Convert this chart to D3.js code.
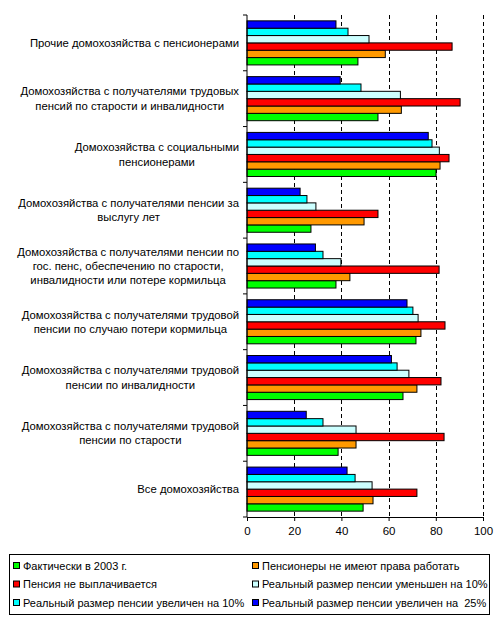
<!DOCTYPE html>
<html>
<head>
<meta charset="utf-8">
<script src="https://cdn.jsdelivr.net/npm/d3@7"></script>
<style>
  body { margin: 0; background: #fff; }
  svg text { font-family: "Liberation Sans", Arial, sans-serif; font-size: 11px; fill: #000; white-space: pre; }
  svg text.cat { font-size: 11.3px; }
</style>
</head>
<body>
<div id="chart"></div>
<script>
// Categories (top to bottom)
var categories = [
    'Прочие домохозяйства с пенсионерами',
    'Домохозяйства с получателями трудовых|пенсий по старости и инвалидности',
    'Домохозяйства с социальными|пенсионерами',
    'Домохозяйства с получателями пенсии за|выслугу лет',
    'Домохозяйства с получателями пенсии по|гос. пенс, обеспечению по старости,|инвалидности или потере кормильца',
    'Домохозяйства с получателями трудовой|пенсии по случаю потери кормильца',
    'Домохозяйства с получателями трудовой|пенсии по инвалидности',
    'Домохозяйства с получателями трудовой|пенсии по старости',
    'Все домохозяйства'
];

// Series names and colours
var seriesNames = [
    'Фактически в 2003 г.',
    'Пенсионеры не имеют права работать',
    'Пенсия не выплачивается',
    'Реальный размер пенсии уменьшен на 10%',
    'Реальный размер пенсии увеличен на 10%',
    'Реальный размер пенсии увеличен на  25%'
];
var seriesColors = ['#00ff00', '#ff9900', '#ff0000', '#ccffff', '#00ffff', '#0000ff'];

// Values per series, in category order
var actual2003   = [47.0, 55.5, 80.1, 27.1, 37.7, 71.6, 66.1, 38.6, 49.2];
var noWork       = [58.6, 65.4, 81.8, 49.6, 43.6, 73.7, 72.0, 46.2, 53.4];
var noPension    = [86.9, 90.3, 85.6, 55.5, 81.4, 83.9, 82.2, 83.5, 72.0];
var minus10      = [51.7, 65.0, 81.5, 29.2, 39.8, 72.5, 68.6, 46.2, 53.0];
var plus10       = [42.8, 48.3, 78.4, 25.4, 32.2, 70.3, 63.6, 32.2, 45.8];
var plus25       = [37.7, 39.5, 76.8, 22.5, 29.0, 67.8, 61.2, 25.1, 42.4];
var seriesValues = [actual2003, noWork, noPension, minus10, plus10, plus25];

var xTicks = [0, 20, 40, 60, 80, 100];

// Sizes
var width = 499, height = 623;
var plotLeft = 247, plotRight = 483, plotTop = 15, plotBottom = 517;

var svg = d3.select('#chart')
    .append('svg')
    .attr('width', width)
    .attr('height', height);

var x = d3.scaleLinear().domain([0, 100]).range([plotLeft, plotRight]);

var y = d3.scaleBand()
    .domain(d3.range(categories.length))
    .range([plotTop, plotBottom])
    .paddingInner(0.21)
    .paddingOuter(0.105);

// within a band: last series (blue) on top, first (green) at bottom
var ySub = d3.scaleBand()
    .domain(d3.range(seriesNames.length).reverse())
    .range([0, y.bandwidth()]);

// dashed gridlines
svg.append('g')
    .selectAll('line')
    .data(xTicks.filter((d) => d > 0))
    .enter()
    .append('line')
    .attr('x1', (d) => Math.round(x(d)) + 0.5)
    .attr('x2', (d) => Math.round(x(d)) + 0.5)
    .attr('y1', plotTop)
    .attr('y2', plotBottom)
    .attr('stroke', '#000')
    .attr('stroke-dasharray', '4,3');

// bars
var groups = svg.append('g')
    .selectAll('g')
    .data(categories)
    .enter()
    .append('g')
    .attr('transform', (d, i) => `translate(0, ${y(i)})`);

groups.selectAll('rect')
    .data((d, i) => seriesValues.map((s, j) => ({ s: j, v: s[i] })))
    .enter()
    .append('rect')
    .attr('x', x(0))
    .attr('y', (d) => ySub(d.s))
    .attr('width', (d) => x(d.v) - x(0))
    .attr('height', ySub.bandwidth())
    .attr('fill', (d) => seriesColors[d.s])
    .attr('stroke', '#000')
    .attr('stroke-width', 1);

// bottom axis
var xAxis = d3.axisBottom(x)
    .tickValues(xTicks)
    .tickSize(4)
    .tickSizeOuter(0)
    .tickPadding(6);

svg.append('g')
    .attr('transform', `translate(0, ${plotBottom})`)
    .call(xAxis)
    .call((g) => g.selectAll('text').style('font-size', '11.5px').style('font-family', '"Liberation Sans", Arial, sans-serif'));

// left axis line + boundary ticks
var leftAxis = svg.append('g');
leftAxis.append('line')
    .attr('x1', x(0)).attr('x2', x(0))
    .attr('y1', plotTop).attr('y2', plotBottom)
    .attr('stroke', '#000');
leftAxis.selectAll('.bt')
    .data(d3.range(categories.length + 1))
    .enter()
    .append('line')
    .attr('x1', x(0) - 4).attr('x2', x(0))
    .attr('y1', (d) => plotTop + d * y.step())
    .attr('y2', (d) => plotTop + d * y.step())
    .attr('stroke', '#000');

// category labels: block right-aligned, lines centred
var lineH = 14.3;
var labelRight = 239;
categories.forEach((c, i) => {
    var lines = c.split('|');
    var t = svg.append('text').attr('class', 'cat').attr('text-anchor', 'middle');
    var spans = lines.map((l) => t.append('tspan').text(l));
    var maxW = d3.max(spans, (s) => s.node().getComputedTextLength());
    var cx = labelRight - maxW / 2;
    var cy = y(i) + y.bandwidth() / 2 - (lines.length - 1) * lineH / 2;
    spans.forEach((s, k) => {
        s.attr('x', cx).attr('y', cy + k * lineH).attr('dy', '0.35em');
    });
});

// legend
var legend = svg.append('g');
legend.append('rect')
    .attr('x', 9.5).attr('y', 554.5)
    .attr('width', 480).attr('height', 60)
    .attr('fill', '#fff')
    .attr('stroke', '#000');

var legendCols = [13, 252];
var legendRows = [566, 584.5, 603];
var items = legend.selectAll('.item')
    .data(seriesNames)
    .enter()
    .append('g')
    .attr('transform', (d, i) => `translate(${legendCols[i % 2]}, ${legendRows[Math.floor(i / 2)]})`);

items.append('rect')
    .attr('x', 0.5).attr('y', -3.5)
    .attr('width', 6).attr('height', 6)
    .attr('fill', (d, i) => seriesColors[i])
    .attr('stroke', '#000');

items.append('text')
    .attr('x', 10)
    .attr('dy', '0.35em')
    .text((d) => d);
</script>
</body>
</html>
